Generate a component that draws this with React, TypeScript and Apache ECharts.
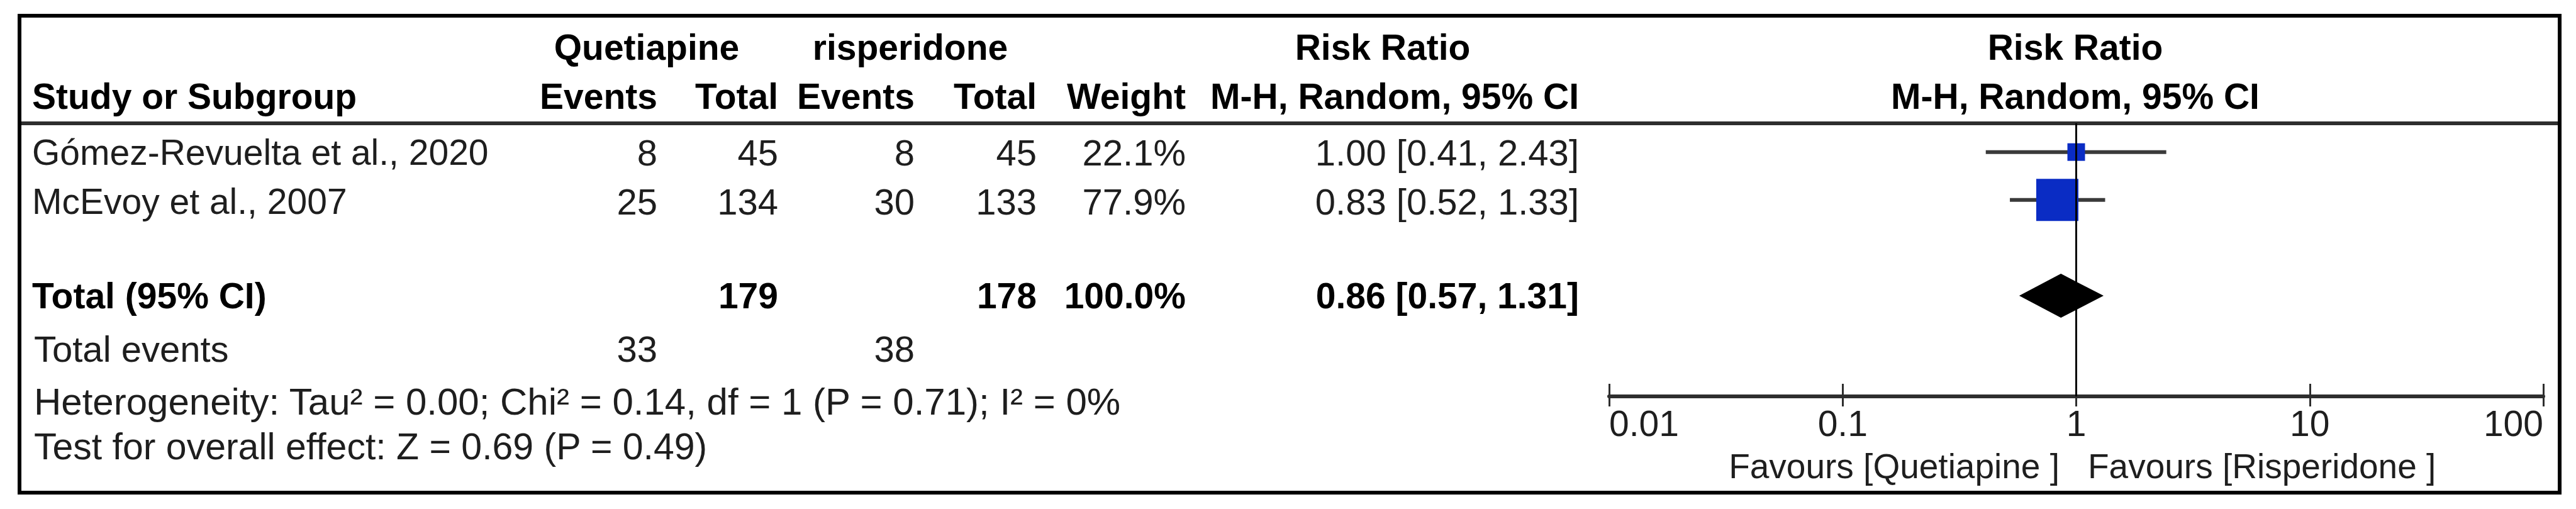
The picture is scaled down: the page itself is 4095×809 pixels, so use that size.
import React, { useEffect, useRef } from "react";
import * as echarts from "echarts";

// ---------- data ----------
const studies = ["Gómez-Revuelta et al., 2020", "McEvoy et al., 2007"];
const quetEvents = [8, 25];
const quetTotal = [45, 134];
const rispEvents = [8, 30];
const rispTotal = [45, 133];
const weights = [22.1, 77.9];
const rr = [1.0, 0.83];
const rrLow = [0.41, 0.52];
const rrHigh = [2.43, 1.33];
const studyRows = [0, 1];

const totalLabel = "Total (95% CI)";
const totalQuet = 179;
const totalRisp = 178;
const totalWeight = 100.0;
const pooledRR = 0.86;
const pooledLow = 0.57;
const pooledHigh = 1.31;
const pooledRow = 3;

const totalEventsLabel = "Total events";
const totalEventsQuet = 33;
const totalEventsRisp = 38;
const heterogeneity = "Heterogeneity: Tau² = 0.00; Chi² = 0.14, df = 1 (P = 0.71); I² = 0%";
const overallEffect = "Test for overall effect: Z = 0.69 (P = 0.49)";

const groupNames = ["Quetiapine", "risperidone"];
const columnHeaders = ["Study or Subgroup", "Events", "Total", "Events", "Total", "Weight", "M-H, Random, 95% CI"];
const effectTitle = ["Risk Ratio", "M-H, Random, 95% CI"];
const tickLabels = ["0.01", "0.1", "1", "10", "100"];
const favoursLeft = "Favours [Quetiapine ]";
const favoursRight = "Favours [Risperidone ]";

// ---------- layout / style ----------
const W = 4095;
const H = 809;
const FONT = '"Liberation Sans", Arial, sans-serif';
const FS = 57;
const FSN = 58;
const colRight = [1045, 1237, 1454, 1648, 1885, 2510];
const leftX = 51;
const rowY = { h1: 75, h2: 153, r0: 242, r1: 320, total: 470, events: 554, het: 638, test: 710 };
const BLUE = "#0a2cc4";
const LINE = "#2e2e2e";

const fmtCI = (e: number, l: number, h: number) => `${e.toFixed(2)} [${l.toFixed(2)}, ${h.toFixed(2)}]`;

function txt(text: string, x: number, y: number, align: string, bold = false, size?: number) {
  const sz = size ?? (bold ? FS : FSN);
  return {
    type: "text",
    x,
    y,
    silent: true,
    style: {
      text,
      align,
      verticalAlign: "middle",
      font: `${bold ? "bold " : ""}${sz}px ${FONT}`,
      fill: bold ? "#000" : "#1e1e1e",
    },
  };
}

function buildGraphics() {
  const g: any[] = [];
  g.push({
    type: "rect",
    silent: true,
    shape: { x: 31, y: 25, width: 4038, height: 758 },
    style: { fill: "none", stroke: "#000", lineWidth: 6 },
  });
  g.push({
    type: "line",
    silent: true,
    shape: { x1: 34, y1: 196, x2: 4066, y2: 196 },
    style: { stroke: LINE, lineWidth: 6 },
  });
  // header row 1
  g.push(txt(groupNames[0], 1028, rowY.h1, "center", true));
  g.push(txt(groupNames[1], 1447, rowY.h1, "center", true));
  g.push(txt(effectTitle[0], 2198, rowY.h1, "center", true));
  g.push(txt(effectTitle[0], 3299, rowY.h1, "center", true));
  // header row 2
  g.push(txt(columnHeaders[0], leftX, rowY.h2, "left", true));
  for (let i = 1; i < columnHeaders.length; i++) {
    g.push(txt(columnHeaders[i], colRight[i - 1], rowY.h2, "right", true));
  }
  g.push(txt(effectTitle[1], 3299, rowY.h2, "center", true));
  // study rows
  const ys = [rowY.r0, rowY.r1];
  studies.forEach((s, i) => {
    const y = ys[i];
    g.push(txt(s, leftX, y, "left", false, 57));
    g.push(txt(String(quetEvents[i]), colRight[0], y, "right"));
    g.push(txt(String(quetTotal[i]), colRight[1], y, "right"));
    g.push(txt(String(rispEvents[i]), colRight[2], y, "right"));
    g.push(txt(String(rispTotal[i]), colRight[3], y, "right"));
    g.push(txt(`${weights[i].toFixed(1)}%`, colRight[4], y, "right"));
    g.push(txt(fmtCI(rr[i], rrLow[i], rrHigh[i]), colRight[5], y, "right"));
  });
  // total row
  g.push(txt(totalLabel, leftX, rowY.total, "left", true));
  g.push(txt(String(totalQuet), colRight[1], rowY.total, "right", true));
  g.push(txt(String(totalRisp), colRight[3], rowY.total, "right", true));
  g.push(txt(`${totalWeight.toFixed(1)}%`, colRight[4], rowY.total, "right", true));
  g.push(txt(fmtCI(pooledRR, pooledLow, pooledHigh), colRight[5], rowY.total, "right", true));
  // total events etc.
  g.push(txt(totalEventsLabel, leftX + 3, rowY.events, "left"));
  g.push(txt(String(totalEventsQuet), colRight[0], rowY.events, "right"));
  g.push(txt(String(totalEventsRisp), colRight[2], rowY.events, "right"));
  g.push(txt(heterogeneity, leftX + 3, rowY.het, "left", false, 60));
  g.push(txt(overallEffect, leftX + 3, rowY.test, "left", false, 59));
  // favours
  g.push(txt(favoursLeft, 3274, 741, "right", false, 55));
  g.push(txt(favoursRight, 3319, 741, "left", false, 55));
  return g;
}

export default function App() {
  const ref = useRef<HTMLDivElement>(null);
  useEffect(() => {
    if (!ref.current) return;
    const chart = echarts.init(ref.current, undefined, { renderer: "svg" });
    const axisBase = {
      type: "log",
      logBase: 10,
      min: 0.01,
      max: 100,
      position: "bottom",
      splitLine: { show: false },
      minorTick: { show: false },
    };
    chart.setOption({
      animation: false,
      backgroundColor: "#fff",
      grid: { left: 2558, right: 52, top: 196, bottom: 179, containLabel: false, outerBoundsMode: "none" },
      xAxis: [
        {
          ...axisBase,
          axisLine: { show: true, onZero: false, lineStyle: { color: LINE, width: 6 } },
          axisTick: { show: true, inside: false, length: 16, lineStyle: { color: LINE, width: 3 } },
          axisLabel: {
            show: true,
            margin: 14,
            color: "#1e1e1e",
            fontSize: 57,
            fontFamily: FONT,
            alignMinLabel: "left",
            alignMaxLabel: "right",
            formatter: (_v: number, i: number) => tickLabels[i] ?? "",
          },
        },
        {
          ...axisBase,
          axisLine: { show: false, onZero: false },
          axisTick: { show: true, inside: true, length: 20, lineStyle: { color: LINE, width: 3 } },
          axisLabel: { show: false },
        },
      ],
      yAxis: { type: "value", min: -0.6, max: 5.1, inverse: true, show: false },
      graphic: buildGraphics(),
      series: [
        {
          type: "line",
          data: [],
          z: 1,
          markLine: {
            silent: true,
            symbol: "none",
            label: { show: false },
            lineStyle: { color: "#000", width: 3, type: "solid" },
            data: [{ xAxis: 1 }],
          },
        },
        {
          type: "custom",
          z: 3,
          clip: false,
          data: studies.map((_, i) => [rr[i], studyRows[i], rrLow[i], rrHigh[i], weights[i]]),
          encode: { x: [0, 2, 3], y: 1 },
          renderItem: (_p: any, api: any) => {
            const est = api.value(0);
            const row = api.value(1);
            const lo = api.coord([api.value(2), row]);
            const hi = api.coord([api.value(3), row]);
            const c = api.coord([est, row]);
            const s = 12.5 + 0.7 * api.value(4);
            return {
              type: "group",
              children: [
                { type: "line", shape: { x1: lo[0], y1: lo[1], x2: hi[0], y2: hi[1] }, style: { stroke: "#3a3a3a", lineWidth: 6 } },
                { type: "rect", shape: { x: c[0] - s / 2, y: c[1] - s / 2, width: s, height: s }, style: { fill: BLUE } },
              ],
            };
          },
        },
        {
          type: "custom",
          z: 3,
          clip: false,
          data: [[pooledRR, pooledRow, pooledLow, pooledHigh]],
          encode: { x: [0, 2, 3], y: 1 },
          renderItem: (_p: any, api: any) => {
            const row = api.value(1);
            const c = api.coord([api.value(0), row]);
            const lo = api.coord([api.value(2), row]);
            const hi = api.coord([api.value(3), row]);
            const h = 35;
            return {
              type: "polygon",
              shape: { points: [[lo[0], c[1]], [c[0], c[1] - h], [hi[0], c[1]], [c[0], c[1] + h]] },
              style: { fill: "#000" },
            };
          },
        },
      ],
    });
    return () => chart.dispose();
  }, []);
  return (
    <div
      ref={ref}
      style={{ position: "absolute", left: 0, top: 0, width: W, height: H, background: "#fff" }}
    />
  );
}
